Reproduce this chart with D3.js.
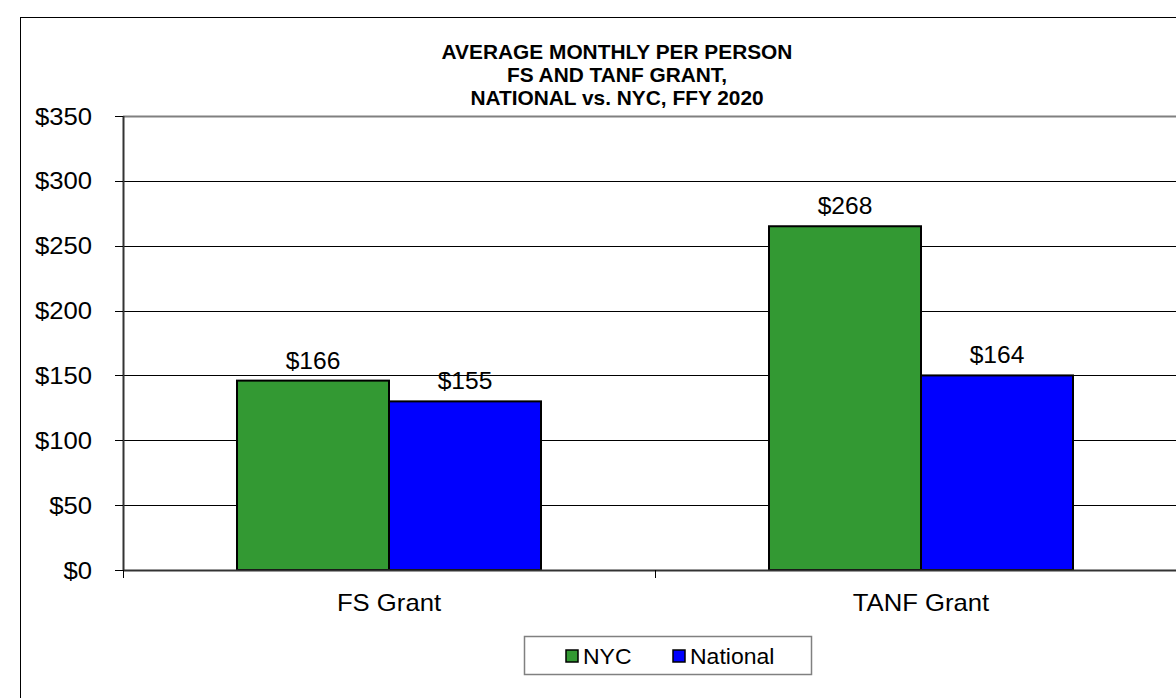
<!DOCTYPE html>
<html>
<head>
<meta charset="utf-8">
<script src="https://cdn.jsdelivr.net/npm/d3@7"></script>
<style>
  body { margin: 0; background: #fff; }
  text { font-family: Arial, "Liberation Sans", sans-serif; fill: #000; }
</style>
</head>
<body>
<div id="chart"></div>
<script>
// data
const categories = ['FS Grant', 'TANF Grant'];
const seriesNames = ['NYC', 'National'];
const nycValues = [146, 265];
const nationalValues = [130, 150];
const nycLabels = ['$166', '$268'];
const nationalLabels = ['$155', '$164'];
const yTicks = [0, 50, 100, 150, 200, 250, 300, 350];
const titleLines = ['AVERAGE MONTHLY PER PERSON', 'FS AND TANF GRANT,', 'NATIONAL vs. NYC, FFY 2020'];
const colors = { NYC: '#339933', National: '#0000ff' };

const config = {
  width: 1176,
  height: 698,
  plot: { left: 123, top: 116, right: 1187, bottom: 570 },
  stretch: 1.07
};

const rows = [];
categories.forEach((c, i) => {
  rows.push({ cat: c, series: 'NYC', value: nycValues[i], label: nycLabels[i] });
  rows.push({ cat: c, series: 'National', value: nationalValues[i], label: nationalLabels[i] });
});

const svg = d3.select('#chart').append('svg')
  .attr('width', config.width)
  .attr('height', config.height);

// outer chart frame (runs off the right and bottom of the picture)
svg.append('rect')
  .attr('x', 20.5).attr('y', 17.5)
  .attr('width', 1200).attr('height', 720)
  .attr('fill', 'none')
  .attr('stroke', '#000');

// scales
const xScale = d3.scaleBand()
  .domain(categories)
  .range([config.plot.left, config.plot.right]);

const xSub = d3.scaleBand()
  .domain(seriesNames)
  .range([0, xScale.bandwidth()])
  .paddingInner(0)
  .paddingOuter(0.75);

const yScale = d3.scaleLinear()
  .domain([0, 350])
  .range([config.plot.bottom, config.plot.top]);

// helper for slightly widened text
function stretchedText(sel, x, y, size, anchor) {
  return sel.append('text')
    .attr('transform', `translate(${x},${y}) scale(${config.stretch},1)`)
    .attr('font-size', size)
    .attr('text-anchor', anchor || 'middle');
}

// gridlines
svg.append('g')
  .selectAll('line')
  .data(yTicks.filter(d => d > 0 && d < 350))
  .join('line')
    .attr('x1', config.plot.left).attr('x2', config.width)
    .attr('y1', d => Math.round(yScale(d)) + 0.5)
    .attr('y2', d => Math.round(yScale(d)) + 0.5)
    .attr('stroke', '#000')
    .attr('stroke-width', 1);

// top border of plot area
svg.append('line')
  .attr('x1', config.plot.left).attr('x2', config.width)
  .attr('y1', yScale(350) + 0.5).attr('y2', yScale(350) + 0.5)
  .attr('stroke', '#808080')
  .attr('stroke-width', 2);

// bars
svg.append('g')
  .selectAll('rect')
  .data(rows)
  .join('rect')
    .attr('x', d => xScale(d.cat) + xSub(d.series))
    .attr('y', d => yScale(d.value))
    .attr('width', xSub.bandwidth())
    .attr('height', d => yScale(0) - yScale(d.value))
    .attr('fill', d => colors[d.series])
    .attr('stroke', '#000')
    .attr('stroke-width', 2);

// value labels
const labelG = svg.append('g');
rows.forEach(d => {
  stretchedText(labelG, xScale(d.cat) + xSub(d.series) + xSub.bandwidth() / 2, yScale(d.value) - 12, 23)
    .text(d.label);
});

// y axis
const yAxisG = svg.append('g');
yAxisG.append('line')
  .attr('x1', config.plot.left + 0.5).attr('x2', config.plot.left + 0.5)
  .attr('y1', config.plot.top).attr('y2', config.plot.bottom)
  .attr('stroke', '#333').attr('stroke-width', 2);
yAxisG.selectAll('.ytick')
  .data(yTicks)
  .join('line')
    .attr('class', 'ytick')
    .attr('x1', config.plot.left - 8).attr('x2', config.plot.left)
    .attr('y1', d => Math.round(yScale(d)) + 0.5)
    .attr('y2', d => Math.round(yScale(d)) + 0.5)
    .attr('stroke', '#000');
yTicks.forEach(t => {
  stretchedText(yAxisG, 92, yScale(t) + 8.5, 24, 'end').text('$' + t);
});

// x axis
const xAxisG = svg.append('g');
xAxisG.append('line')
  .attr('x1', config.plot.left).attr('x2', config.width)
  .attr('y1', yScale(0) + 0.5).attr('y2', yScale(0) + 0.5)
  .attr('stroke', '#333').attr('stroke-width', 2);
xAxisG.selectAll('.xtick')
  .data(categories)
  .join('line')
    .attr('class', 'xtick')
    .attr('x1', d => xScale(d) + 0.5).attr('x2', d => xScale(d) + 0.5)
    .attr('y1', yScale(0)).attr('y2', yScale(0) + 8)
    .attr('stroke', '#000');
categories.forEach(c => {
  stretchedText(xAxisG, xScale(c) + xScale.bandwidth() / 2, 611, 24).text(c);
});

// title
const titleG = svg.append('g');
titleLines.forEach((t, i) => {
  stretchedText(titleG, 617, 59 + i * 23, 19.5)
    .attr('font-weight', 'bold')
    .text(t);
});

// legend
const legend = svg.append('g');
legend.append('rect')
  .attr('x', 524.5).attr('y', 636.5)
  .attr('width', 287).attr('height', 38)
  .attr('fill', '#fff')
  .attr('stroke', '#808080')
  .attr('stroke-width', 1.5);
const legendX = { NYC: 566, National: 673 };
seriesNames.forEach(s => {
  legend.append('rect')
    .attr('x', legendX[s]).attr('y', 650)
    .attr('width', 12).attr('height', 12)
    .attr('fill', colors[s])
    .attr('stroke', '#000')
    .attr('stroke-width', 1.5);
  stretchedText(legend, legendX[s] + 17, 664, 21.5, 'start').text(s);
});
</script>
</body>
</html>
